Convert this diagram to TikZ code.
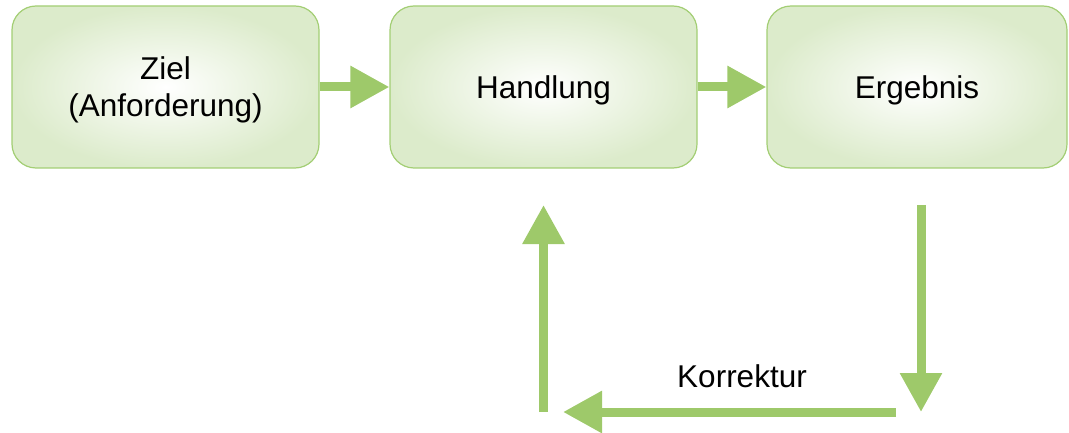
\documentclass[tikz,border=0pt]{standalone}
\usepackage{fontspec}
\setmainfont{Liberation Sans}
\usetikzlibrary{arrows.meta}
\definecolor{pfeilgruen}{RGB}{158,201,106}
\definecolor{randgruen}{RGB}{163,206,116}
\definecolor{fuellgruen}{RGB}{220,235,203}

\begin{document}
\begin{tikzpicture}[x=1pt, y=-1pt,
    box/.style = {draw=randgruen, line width=1.2pt, rounded corners=24pt, minimum height=162pt, text depth=0pt,
        inner color=white, outer color=fuellgruen, align=center, font=\fontsize{31.5}{37}\selectfont},
    pfeil/.style = {draw=pfeilgruen, line width=9pt, -{Triangle[width=40pt, length=39pt]}}]
    \useasboundingbox (0,0) rectangle (1069,433);

	\node [box, minimum width=307pt] (ziel) at (165.5, 87) {Ziel\\(Anforderung)};
	\node [box, minimum width=307pt] (handlung) at (543.5, 87) {Handlung};
	\node [box, minimum width=300pt] (ergebnis) at (917, 87) {Ergebnis};

    % Rueckfuehrung
	\coordinate (k1) at (921, 205);
	\coordinate (k2) at (921, 412);
	\coordinate (k3) at (896, 412);
	\coordinate (k4) at (563, 412);
	\coordinate (k5) at (543.5, 412);
	\coordinate (k6) at (543.5, 205);

    \draw[pfeil] (ziel) --  (handlung);
    \draw[pfeil] (handlung) --  (ergebnis);
    \draw[pfeil] (k1) --  (k2);
    \draw[pfeil] (k3) --  (k4);
    \draw[pfeil] (k5) --  (k6);

    \node [anchor=base, font=\fontsize{31.5}{37}\selectfont] (korrektur) at (742, 387) {Korrektur};

\end{tikzpicture}
\end{document}
